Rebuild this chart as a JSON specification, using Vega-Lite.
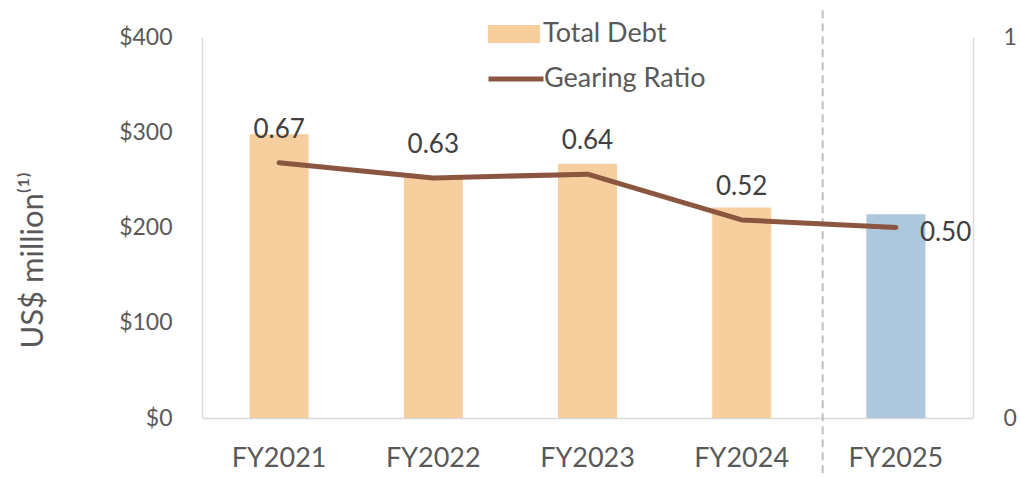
{
  "$schema": "https://vega.github.io/schema/vega-lite/v6.json",
  "autosize": {"type": "none"},
  "width": 771,
  "height": 381,
  "padding": {"left": 202, "top": 37, "right": 47, "bottom": 60},
  "background": "white",
  "config": {
    "view": {"stroke": null},
    "font": "Lato",
    "axis": {"labelFont": "Lato", "titleFont": "Lato", "labelColor": "#595959", "titleColor": "#595959", "domainColor": "#D9D9D9", "domainWidth": 1.5, "ticks": false, "grid": false, "titleFontWeight": "normal"},
    "legend": {"labelFont": "Lato", "labelColor": "#595959", "padding": 0, "labelLimit": 400}
  },
  "data": {
    "values": [
      {"period": "FY2021", "debt": 298, "ratio": 0.67, "debtType": "Total Debt"},
      {"period": "FY2022", "debt": 253, "ratio": 0.63, "debtType": "Total Debt"},
      {"period": "FY2023", "debt": 267, "ratio": 0.64, "debtType": "Total Debt"},
      {"period": "FY2024", "debt": 221, "ratio": 0.52, "debtType": "Total Debt"},
      {"period": "FY2025", "debt": 214, "ratio": 0.50, "debtType": "Total Debt FY2025"}
    ]
  },
  "layer": [
    {
      "layer": [
        {
          "mark": {"type": "bar"},
          "encoding": {
            "x": {"field": "period", "type": "nominal", "sort": null,
              "scale": {"paddingInner": 0.617, "paddingOuter": 0.3085},
              "axis": {"title": null, "labelAngle": 0, "labelFontSize": 27, "labelPadding": 27, "domain": true}},
            "y": {"field": "debt", "type": "quantitative",
              "scale": {"domain": [0, 400], "nice": false, "zero": true},
              "axis": {"orient": "left", "values": [0, 100, 200, 300, 400], "format": "$.0f", "labelFontSize": 23, "labelPadding": 30,
                "title": "US$ million⁽¹⁾", "titleFontSize": 31, "titleX": -160, "titleY": 223, "titleBaseline": "alphabetic", "titleAngle": -90}},
            "fill": {"field": "debtType", "type": "nominal",
              "scale": {"domain": ["Total Debt", "Total Debt FY2025"], "range": ["#F7CF9E", "#ADC7DD"]},
              "legend": {"orient": "none", "legendX": 294, "legendY": -21, "values": ["Total Debt"], "title": null,
                "symbolType": "M-1.45,-0.5H1.45V0.5H-1.45Z", "symbolSize": 1296, "symbolStrokeWidth": 0, "symbolOpacity": 1,
                "labelFontSize": 27, "labelOffset": 11}}
          }
        },
        {
          "data": {"values": [{"boundary": "FY2025"}]},
          "mark": {"type": "rule", "color": "#BFBFBF", "strokeWidth": 2, "strokeDash": [8, 5], "clip": false},
          "encoding": {
            "x": {"field": "boundary", "type": "nominal", "bandPosition": -0.74},
            "y": {"datum": 428, "title": "US$ million⁽¹⁾"},
            "y2": {"datum": -63}
          }
        }
      ]
    },
    {
      "layer": [
        {
          "mark": {"type": "line", "strokeWidth": 5, "strokeCap": "round", "strokeJoin": "round"},
          "encoding": {
            "x": {"field": "period", "type": "nominal", "sort": null},
            "y": {"field": "ratio", "type": "quantitative",
              "scale": {"domain": [0, 1], "nice": false},
              "axis": {"orient": "right", "values": [0, 1], "format": "d", "labelFontSize": 23, "labelPadding": 30, "title": null}},
            "stroke": {"datum": "Gearing Ratio", "type": "nominal",
              "scale": {"range": ["#8B5640"]},
              "legend": {"orient": "none", "legendX": 284, "legendY": 12, "title": null,
                "symbolType": "stroke", "symbolSize": 3025, "symbolStrokeWidth": 5, "labelFontSize": 27, "labelOffset": -2}}
          }
        },
        {
          "transform": [{"filter": "datum.period !== 'FY2025'"}],
          "mark": {"type": "text", "fontSize": 26, "color": "#404040", "baseline": "alphabetic", "align": "center", "dy": -25},
          "encoding": {
            "x": {"field": "period", "type": "nominal", "sort": null},
            "y": {"field": "ratio", "type": "quantitative"},
            "text": {"field": "ratio", "type": "quantitative", "format": ".2f"}
          }
        },
        {
          "transform": [{"filter": "datum.period === 'FY2025'"}],
          "mark": {"type": "text", "fontSize": 26, "color": "#404040", "baseline": "alphabetic", "align": "left", "dx": 24, "dy": 13},
          "encoding": {
            "x": {"field": "period", "type": "nominal", "sort": null},
            "y": {"field": "ratio", "type": "quantitative"},
            "text": {"field": "ratio", "type": "quantitative", "format": ".2f"}
          }
        }
      ]
    }
  ],
  "resolve": {"scale": {"y": "independent"}}
}
